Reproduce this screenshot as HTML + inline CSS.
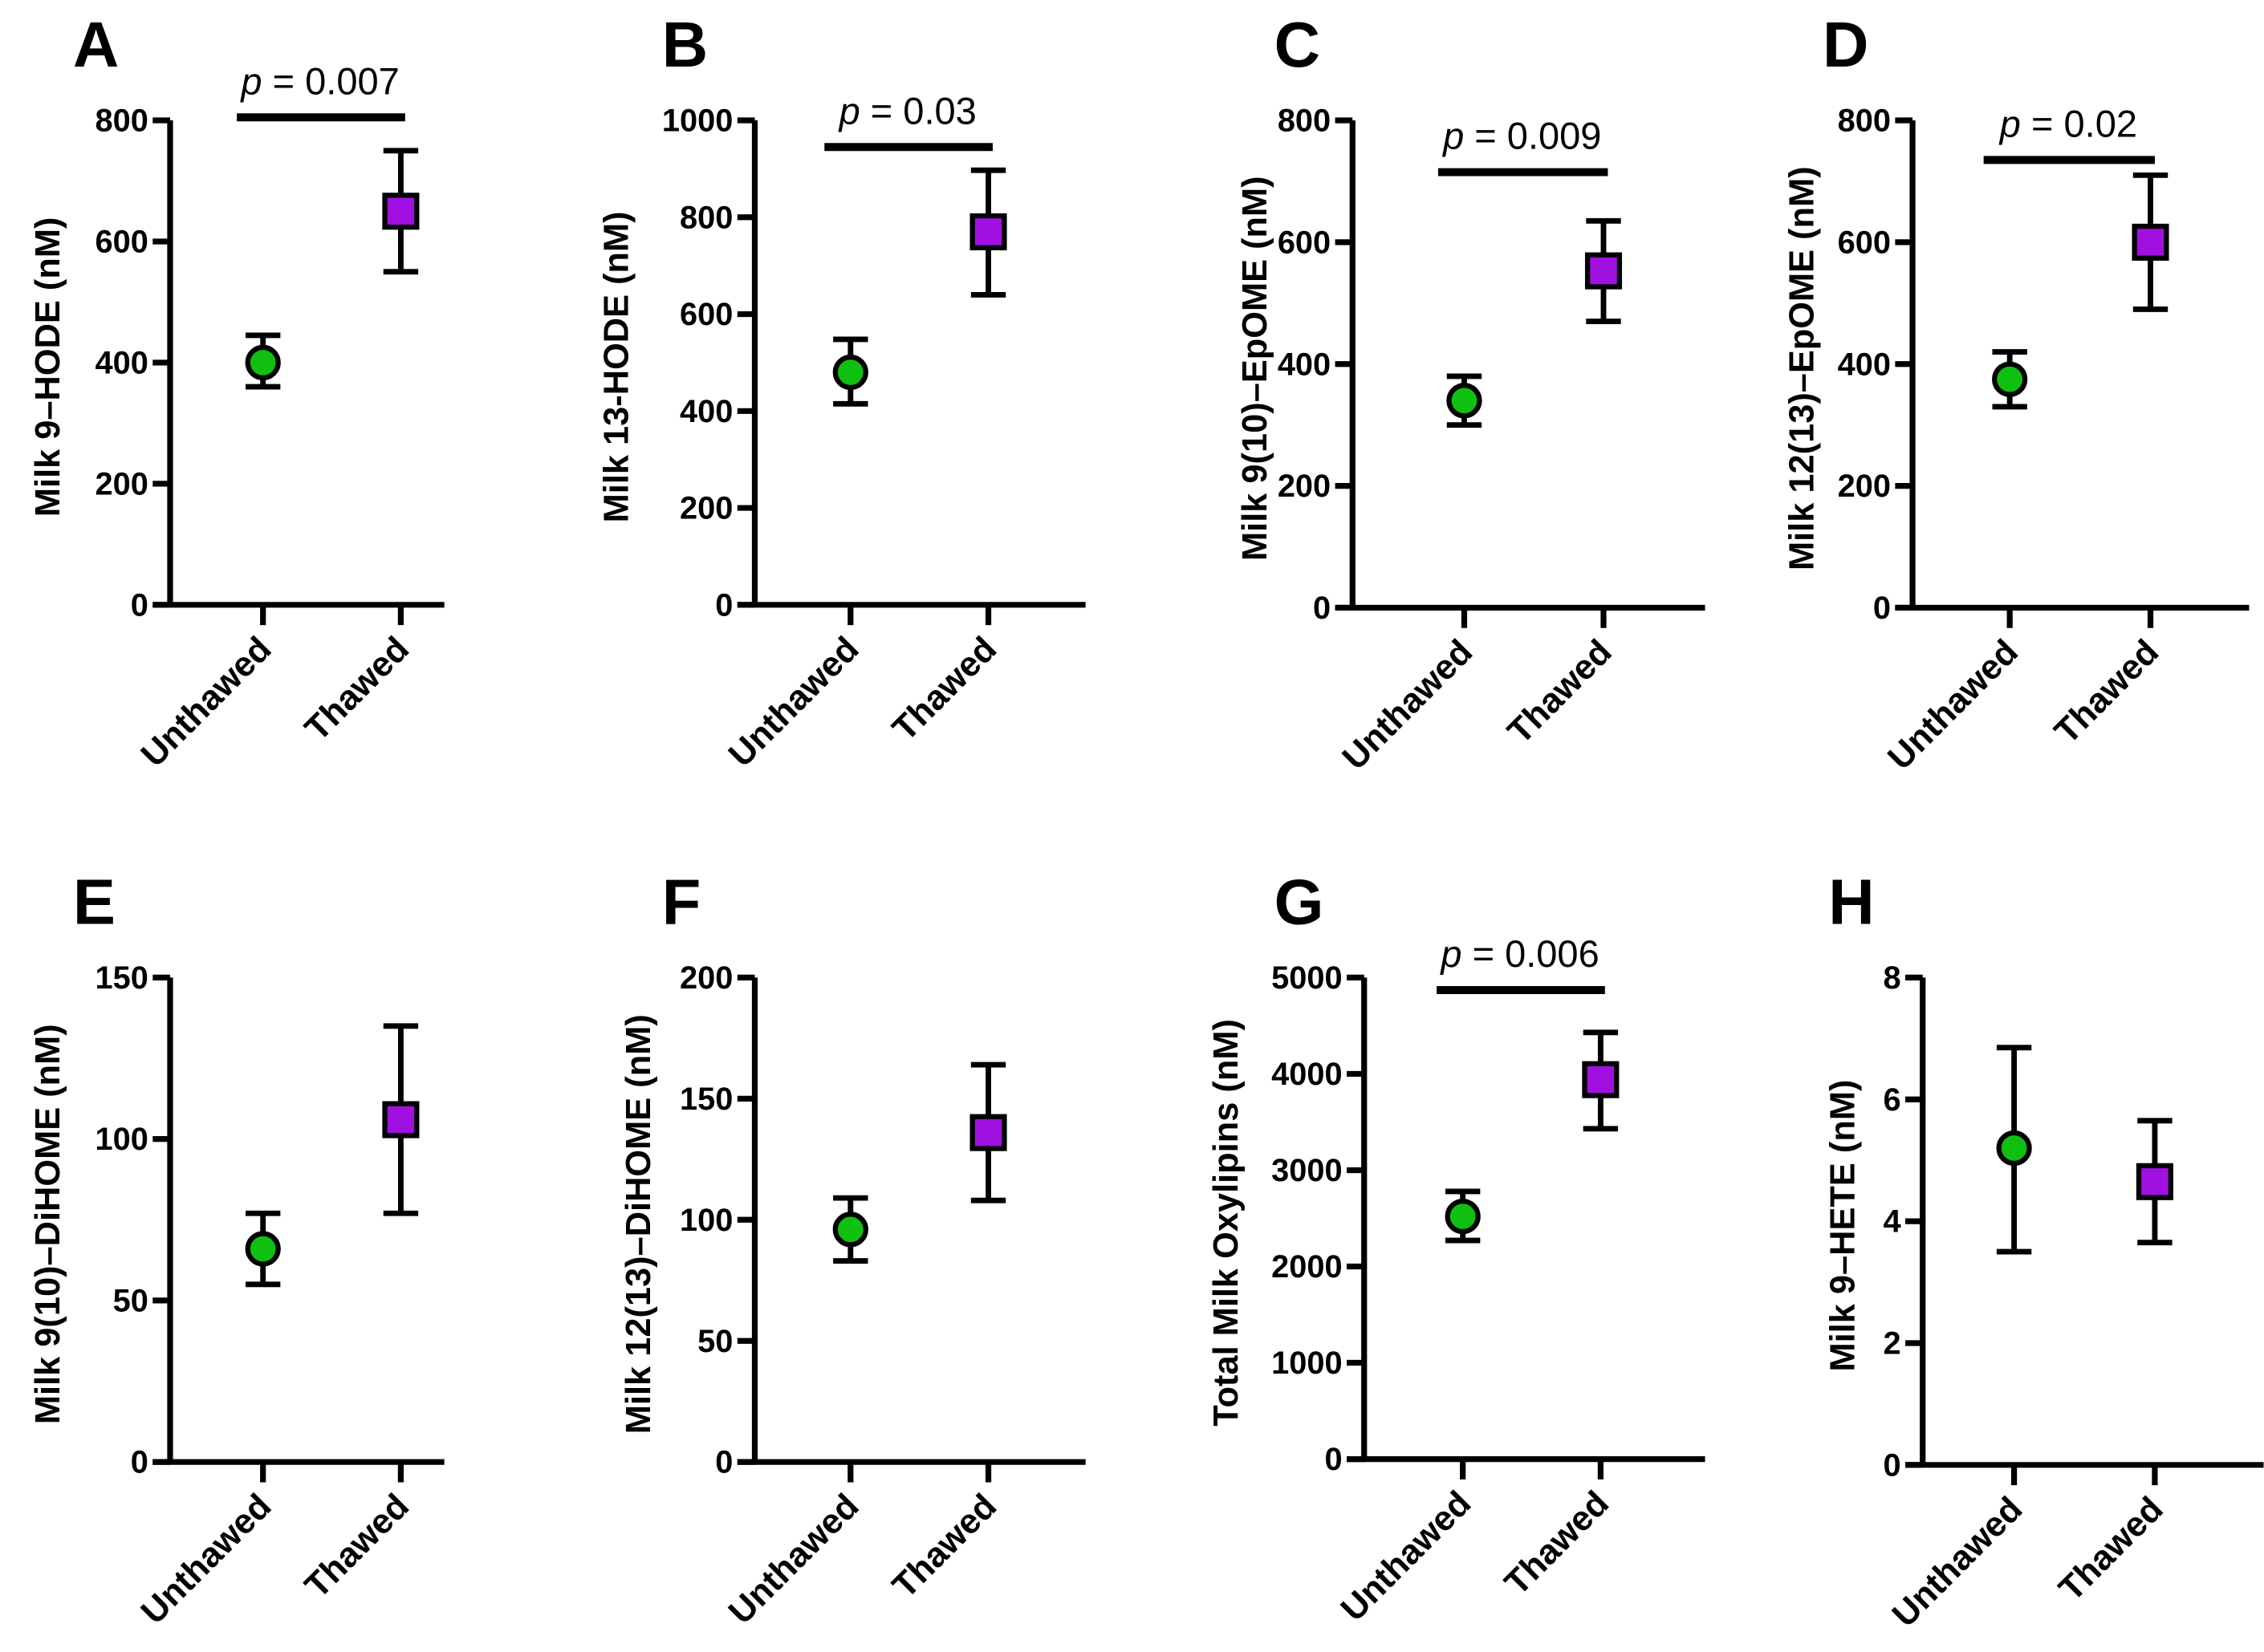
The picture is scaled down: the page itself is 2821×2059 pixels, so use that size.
<!DOCTYPE html>
<html><head><meta charset="utf-8">
<style>
html,body{margin:0;padding:0;background:#fff;}
svg{display:block;font-family:"Liberation Sans",Arial,sans-serif;}
</style></head>
<body>
<svg id="fig" width="2821" height="2059" viewBox="0 0 1560 1139" xmlns="http://www.w3.org/2000/svg"></svg>
<script>
// ---- data ----
const categories = ["Unthawed", "Thawed"];
const panelLetters = ["A","B","C","D","E","F","G","H"];
const yTitles = ["Milk 9\u2013HODE (nM)","Milk 13-HODE (nM)","Milk 9(10)\u2013EpOME (nM)","Milk 12(13)\u2013EpOME (nM)",
  "Milk 9(10)\u2013DiHOME (nM)","Milk 12(13)\u2013DiHOME (nM)","Total Milk Oxylipins (nM)","Milk 9\u2013HETE (nM)"];
const yMax = [800,1000,800,800,150,200,5000,8];
const yTicks = [[0,200,400,600,800],[0,200,400,600,800,1000],[0,200,400,600,800],[0,200,400,600,800],
  [0,50,100,150],[0,50,100,150,200],[0,1000,2000,3000,4000,5000],[0,2,4,6,8]];
const unthawedMean = [400,480,340,375,66,96,2520,5.2];
const unthawedLow  = [360,415,300,330,55,83,2270,3.5];
const unthawedHigh = [445,548,380,420,77,109,2780,6.85];
const thawedMean = [650,770,553,600,106,136,3940,4.65];
const thawedLow  = [550,640,470,490,77,108,3430,3.65];
const thawedHigh = [750,897,635,710,135,164,4430,5.65];
const pValues = ["0.007","0.03","0.009","0.02",null,null,"0.006",null];
const pBarValue = [805,945,715,735,null,null,4870,null];

// ---- layout (not data) ----
const L = [
 {ax:117,top:83,bot:417,end:306,t1:181,t2:276,lx:50,ly:46,tx:33},
 {ax:520,top:83,bot:417,end:748,t1:586,t2:681,lx:456,ly:46,tx:425},
 {ax:932,top:83,bot:419,end:1175,t1:1009,t2:1105,lx:878,ly:46,tx:865},
 {ax:1318,top:83,bot:419,end:1550,t1:1385,t2:1482,lx:1256,ly:46,tx:1242},
 {ax:117,top:674,bot:1008,end:306,t1:181,t2:276,lx:50,ly:637,tx:33},
 {ax:520,top:674,bot:1008,end:748,t1:586,t2:681,lx:456,ly:637,tx:440},
 {ax:940,top:674,bot:1006,end:1175,t1:1008,t2:1103,lx:878,ly:637,tx:845},
 {ax:1325,top:674,bot:1010,end:1560,t1:1388,t2:1485,lx:1260,ly:637,tx:1270}
];
const NS="http://www.w3.org/2000/svg";
const svg=document.getElementById('fig');
function mk(tag,attrs,parent){const e=document.createElementNS(NS,tag);for(const k in attrs)e.setAttribute(k,attrs[k]);(parent||svg).appendChild(e);return e;}

for(let i=0;i<8;i++){
  const p=L[i];
  const g=mk('g',{});
  
  
  const y=v=>p.bot-(v/yMax[i])*(p.bot-p.top);
  const letter=mk('text',{x:p.lx,y:p.ly,'font-size':44,'font-weight':'bold'},g);
  letter.textContent=panelLetters[i];
  
  
  const cy=(p.top+p.bot)/2+3;
  const yt=mk('text',{x:p.tx,y:cy,'font-size':24,'font-weight':'bold','text-anchor':'middle',transform:`rotate(-90 ${p.tx} ${cy})`,'dominant-baseline':'central'},g);
  yt.textContent=yTitles[i];
  
  
  const axis=mk('path',{d:`M${p.ax} ${p.top}V${p.bot}M${p.ax-12} ${p.bot}H${p.end}`,stroke:'#000','stroke-width':4,fill:'none'},g);
  
  
  yTicks[i].forEach(t=>{
    const ty=y(t);
    mk('line',{x1:p.ax-12,x2:p.ax,y1:ty,y2:ty,stroke:'#000','stroke-width':4},g);
    const tl=mk('text',{x:p.ax-15,y:ty+7.5,'font-size':22,'font-weight':'bold','text-anchor':'end'},g);
    tl.textContent=t;
    
    
  });
  [p.t1,p.t2].forEach((tx,k)=>{
    mk('line',{x1:tx,x2:tx,y1:p.bot,y2:p.bot+14,stroke:'#000','stroke-width':4},g);
    const lx=tx+7, ly=p.bot+32;
    const cl=mk('text',{x:lx,y:ly,'font-size':24,'font-weight':'bold','text-anchor':'end',transform:`rotate(-45 ${lx} ${ly})`},g);
    cl.textContent=categories[k];
    
    
  });
  const eb=(x,lo,hi)=>mk('path',{d:`M${x} ${y(lo)}V${y(hi)}M${x-12} ${y(lo)}H${x+12}M${x-12} ${y(hi)}H${x+12}`,stroke:'#000','stroke-width':3.8,fill:'none'},g);
  const e1=eb(p.t1,unthawedLow[i],unthawedHigh[i]);
  
  
  const e2=eb(p.t2,thawedLow[i],thawedHigh[i]);
  
  
  const c=mk('circle',{cx:p.t1,cy:y(unthawedMean[i]),r:10.5,fill:'#10c010',stroke:'#000','stroke-width':3.5},g);
  
  
  const s=mk('rect',{x:p.t2-11,y:y(thawedMean[i])-11,width:22,height:22,fill:'#a010e0',stroke:'#000','stroke-width':3.5},g);
  
  
  if(pValues[i]){
    const by=y(pBarValue[i]);
    const bar=mk('line',{x1:p.t1-18,x2:p.t2+3,y1:by,y2:by,stroke:'#000','stroke-width':5.5},g);
    
    
    const pt=mk('text',{x:(p.t1+p.t2)/2-8,y:by-16,'font-size':26,'text-anchor':'middle'},g);
    pt.innerHTML='<tspan font-style="italic">p</tspan> = '+pValues[i];
    
    
  }
}
</script>
</body></html>
